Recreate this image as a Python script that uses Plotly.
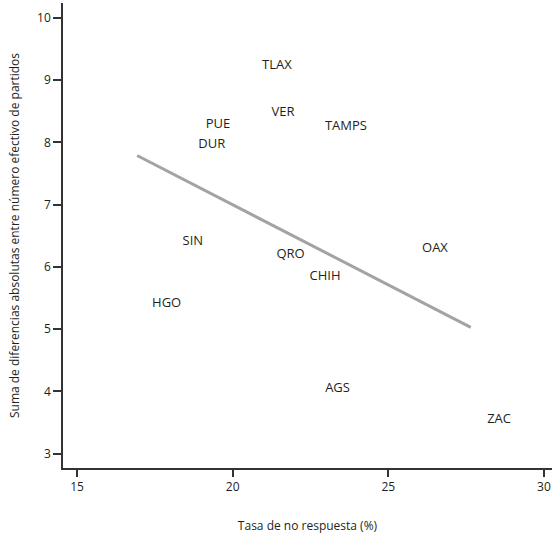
import plotly.graph_objects as go

# Data
estados = ["TLAX", "VER", "PUE", "DUR", "TAMPS", "SIN", "QRO", "CHIH", "HGO", "OAX", "AGS", "ZAC"]
tasa_no_respuesta = [21.42, 21.62, 19.53, 19.33, 23.64, 18.72, 21.86, 22.97, 17.88, 26.50, 23.37, 28.56]
suma_diferencias = [9.23, 8.47, 8.29, 7.97, 8.26, 6.41, 6.20, 5.85, 5.41, 6.29, 4.04, 3.54]

ajuste_x = [16.93, 27.65]
ajuste_y = [7.79, 5.03]

x_ticks = [15, 20, 25, 30]
y_ticks = [3, 4, 5, 6, 7, 8, 9, 10]

FONT = "Open Sans, Noto Sans, sans-serif"
TXT = "#231f20"

fig = go.Figure()
fig.add_trace(go.Scatter(
    x=ajuste_x, y=ajuste_y, mode="lines",
    line=dict(color="#a3a3a3", width=3),
    showlegend=False, hoverinfo="skip",
))
fig.add_trace(go.Scatter(
    x=tasa_no_respuesta, y=suma_diferencias, mode="text",
    text=estados, textposition="middle center",
    textfont=dict(family=FONT, size=13, color=TXT),
    showlegend=False,
))

fig.update_layout(
    width=552, height=534,
    margin=dict(l=63, r=0, t=3, b=66),
    paper_bgcolor="white", plot_bgcolor="white",
    font=dict(family=FONT, size=12, color=TXT),
    xaxis=dict(
        range=[14.55, 30.26], tickvals=x_ticks, automargin=False,
        showgrid=False, zeroline=False,
        showline=True, linecolor="#333333", linewidth=1.5,
        ticks="outside", ticklen=7, tickwidth=1.5, tickcolor="#333333",
        tickfont=dict(family=FONT, size=12, color=TXT),
        title=dict(text="Tasa de no respuesta (%)", standoff=28,
                   font=dict(family=FONT, size=12, color=TXT)),
    ),
    yaxis=dict(
        range=[2.77, 10.24], tickvals=y_ticks, automargin=False,
        showgrid=False, zeroline=False,
        showline=True, linecolor="#333333", linewidth=1.5,
        ticks="outside", ticklen=8, tickwidth=1.5, tickcolor="#333333",
        tickfont=dict(family=FONT, size=12, color=TXT),
        title=dict(text="Suma de diferencias absolutas entre número efectivo de partidos",
                   font=dict(family=FONT, size=12, color=TXT)),
    ),
)

fig.write_html("out.html", config={"displayModeBar": False},
               post_script="document.body.style.margin='0';")
